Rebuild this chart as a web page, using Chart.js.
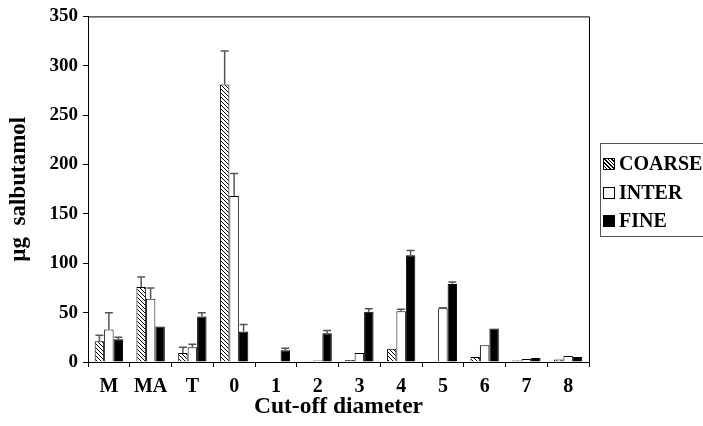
<!DOCTYPE html>
<html>
<head>
<meta charset="utf-8">
<script src="https://cdn.jsdelivr.net/npm/chart.js@4.4.0/dist/chart.umd.min.js"></script>
<style>
  html, body { margin: 0; padding: 0; background: #fff; overflow: hidden; }
  #wrap { position: relative; width: 703px; height: 426px; }
  #legend {
    position: absolute; left: 600px; top: 143px; width: 130px;
    border: 1px solid #555; padding: 5px 0 1px 2px;
    font: bold 20px "Liberation Serif", "Times New Roman", serif; color: #000;
  }
  .item { height: 28.5px; line-height: 28.5px; white-space: nowrap; }
  .sw { display: inline-block; width: 10px; height: 10px; border: 1px solid #000; margin-right: 4px; vertical-align: 0px; }
  .coarse { background: repeating-linear-gradient(45deg, #fff 0 1.6px, #000 1.6px 2.6px); }
  .inter { background: #fff; }
  .fine { background: #000; }
</style>
</head>
<body>
<div id="wrap">
  <canvas id="chart" width="703" height="426"></canvas>
  <div id="legend">
    <div class="item"><span class="sw coarse"></span>COARSE</div>
    <div class="item"><span class="sw inter"></span>INTER</div>
    <div class="item"><span class="sw fine"></span>FINE</div>
  </div>
</div>
<script>
// stage labels and values
const categories = ['M', 'MA', 'T', '0', '1', '2', '3', '4', '5', '6', '7', '8'];
const coarse    = [21, 76, 9, 281, 0.6, 0.7, 2, 13.5, 0, 5, 1.5, 2.5];
const inter     = [33, 64, 15, 168, 0.8, 1.5, 9, 51.5, 54.5, 17, 3, 6];
const fine      = [23, 36, 46, 31, 12, 29, 51, 108, 79, 34, 4, 5];
// upper error bars (SD)
const coarseErr = [6, 10, 6, 34, 0, 0, 0, 0, 0, 0, 0, 0];
const interErr  = [17, 11, 3, 23, 0, 0, 0, 2, 0.5, 0, 0, 0];
const fineErr   = [2, 0, 4, 7, 2, 3, 3, 5, 2, 0, 0, 0];
const yTicks = [0, 50, 100, 150, 200, 250, 300, 350];

const serif = '"Liberation Serif", "Times New Roman", serif';

// hatch pattern for COARSE
function makeHatch() {
  const c = document.createElement('canvas');
  c.width = 4; c.height = 4;
  const g = c.getContext('2d');
  g.fillStyle = '#fff';
  g.fillRect(0, 0, 4, 4);
  g.strokeStyle = '#000';
  g.lineWidth = 1;
  g.beginPath();
  g.moveTo(-1, -1); g.lineTo(5, 5);
  g.moveTo(-1, 3); g.lineTo(1, 5);
  g.moveTo(3, -1); g.lineTo(5, 1);
  g.stroke();
  return g.createPattern(c, 'repeat');
}

const ctx = document.getElementById('chart').getContext('2d');

// error bars + top/right frame
const extras = {
  id: 'extras',
  afterDatasetsDraw(chart) {
    const c = chart.ctx;
    const y = chart.scales.y;
    c.save();
    c.strokeStyle = '#555';
    c.lineWidth = 1.5;
    chart.data.datasets.forEach((ds, i) => {
      const meta = chart.getDatasetMeta(i);
      meta.data.forEach((bar, j) => {
        const e = ds.errors[j];
        if (!e) return;
        const top = y.getPixelForValue(ds.data[j] + e);
        c.beginPath();
        c.moveTo(bar.x, bar.y);
        c.lineTo(bar.x, top);
        c.moveTo(bar.x - 4, top);
        c.lineTo(bar.x + 4, top);
        c.stroke();
      });
    });
    const a = chart.chartArea;
    c.strokeStyle = '#000';
    c.lineWidth = 1;
    c.beginPath();
    c.moveTo(a.left, a.top + 0.5);
    c.lineTo(a.right + 0.5, a.top + 0.5);
    c.lineTo(a.right + 0.5, a.bottom);
    c.stroke();
    c.restore();
  }
};

new Chart(ctx, {
  type: 'bar',
  data: {
    labels: categories,
    datasets: [
      { label: 'COARSE', data: coarse, errors: coarseErr, backgroundColor: makeHatch(), borderColor: '#000', borderWidth: 1 },
      { label: 'INTER', data: inter, errors: interErr, backgroundColor: '#fff', borderColor: '#000', borderWidth: 1 },
      { label: 'FINE', data: fine, errors: fineErr, backgroundColor: '#000', borderColor: '#000', borderWidth: 1 }
    ]
  },
  options: {
    responsive: false,
    animation: false,
    layout: { padding: { top: 15, right: 114, left: 0, bottom: 0 } },
    datasets: { bar: { categoryPercentage: 0.68, barPercentage: 1.0 } },
    plugins: { legend: { display: false }, tooltip: { enabled: false } },
    scales: {
      x: {
        afterFit: s => { s.height = 64; },
        grid: { offset: true, drawOnChartArea: false, drawTicks: true, tickLength: 5, color: '#000' },
        border: { display: true, color: '#000', width: 1 },
        ticks: { color: '#000', padding: 8, font: { family: serif, size: 20, weight: 'bold' } },
        title: { display: true, text: 'Cut-off diameter', color: '#000', padding: { bottom: 5 },
                 font: { family: serif, size: 23.5, weight: 'bold' } }
      },
      y: {
        min: 0, max: 350,
        afterFit: s => { s.width = 88; },
        afterBuildTicks: s => { s.ticks = yTicks.map(v => ({ value: v })); },
        grid: { drawOnChartArea: false, drawTicks: true, tickLength: 5, color: '#000' },
        border: { display: true, color: '#000', width: 1 },
        ticks: { color: '#000', padding: 5, font: { family: serif, size: 19, weight: 'bold' } },
        title: { display: true, text: 'µg  salbutamol', color: '#000', padding: { top: 5 },
                 font: { family: serif, size: 23, weight: 'bold' } }
      }
    }
  },
  plugins: [extras]
});
</script>
</body>
</html>
